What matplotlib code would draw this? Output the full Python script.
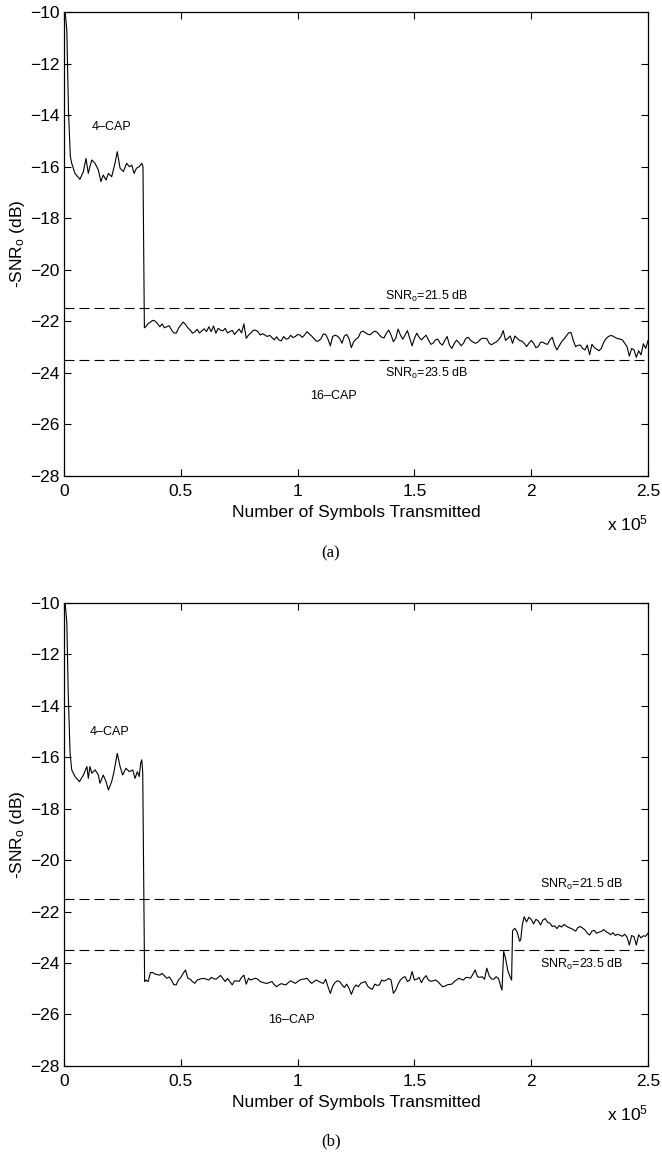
import numpy as np
import matplotlib
matplotlib.use('Agg')
import matplotlib.pyplot as plt

plt.rcParams['font.family'] = ['Liberation Sans', 'DejaVu Sans']
plt.rcParams['mathtext.fontset'] = 'custom'
plt.rcParams['mathtext.rm'] = 'Liberation Sans'
plt.rcParams['mathtext.it'] = 'Liberation Sans:italic'

# reference levels (dB), x axis in units of 1e5 symbols
snr_targets = [21.5, 23.5]
xticks = [0, 0.5, 1, 1.5, 2, 2.5]
yticks = [-28, -26, -24, -22, -20, -18, -16, -14, -12, -10]
step = 0.01

# (a) 4-CAP start-up and switch
a_head_x = [0.0, 0.012, 0.019, 0.027, 0.033, 0.047, 0.068, 0.083, 0.094, 0.104, 0.111, 0.119,
            0.133, 0.147, 0.158, 0.168, 0.180, 0.190, 0.204, 0.218, 0.228, 0.240, 0.254, 0.268,
            0.280, 0.290, 0.300, 0.310, 0.322, 0.333, 0.338, 0.344]
a_head_y = [-9.5, -10.7, -13.8, -15.6, -15.87, -16.26, -16.49, -16.19, -15.68, -16.26, -16.0, -15.74,
            -15.87, -16.13, -16.58, -16.32, -16.52, -16.26, -16.39, -15.87, -15.42, -16.06, -16.19, -15.87,
            -16.0, -15.94, -16.26, -16.06, -16.0, -15.87, -16.0, -22.25]
# (a) 16-CAP, 0.35 .. 2.50
a_tail_x0 = 0.35
a_tail_y = [
    -22.21, -22.09, -22.03, -21.96, -21.99, -22.08, -22.21, -22.10, -22.25, -22.21,
    -22.17, -22.33, -22.45, -22.46, -22.27, -22.14, -22.03, -22.12, -22.25, -22.34,
    -22.46, -22.41, -22.31, -22.45, -22.37, -22.29, -22.40, -22.21, -22.40, -22.18,
    -22.46, -22.27, -22.34, -22.37, -22.27, -22.45, -22.40, -22.35, -22.51, -22.40,
    -22.30, -22.45, -22.10, -22.66, -22.53, -22.45, -22.35, -22.34, -22.40, -22.53,
    -22.48, -22.53, -22.59, -22.54, -22.63, -22.72, -22.60, -22.72, -22.76, -22.59,
    -22.69, -22.67, -22.54, -22.63, -22.59, -22.51, -22.53, -22.62, -22.53, -22.40,
    -22.49, -22.57, -22.67, -22.77, -22.76, -22.67, -22.49, -22.51, -22.69, -22.95,
    -22.59, -22.54, -22.57, -22.66, -22.85, -22.57, -22.51, -22.67, -23.02, -22.79,
    -22.69, -22.62, -22.42, -22.38, -22.44, -22.50, -22.52, -22.44, -22.38, -22.42,
    -22.53, -22.62, -22.64, -22.46, -22.34, -22.53, -22.79, -22.66, -22.30, -22.53,
    -22.69, -22.53, -22.36, -22.66, -22.95, -22.66, -22.46, -22.62, -22.72, -22.62,
    -22.54, -22.72, -22.89, -22.85, -22.72, -22.69, -22.85, -22.92, -22.74, -22.59,
    -22.92, -23.05, -22.87, -22.73, -22.82, -22.95, -22.85, -22.66, -22.62, -22.73,
    -22.80, -22.85, -22.82, -22.72, -22.66, -22.66, -22.67, -22.85, -22.91, -22.85,
    -22.80, -22.72, -22.59, -22.36, -22.74, -22.66, -22.57, -22.85, -22.57, -22.66,
    -22.74, -22.77, -22.85, -22.98, -22.85, -22.74, -22.85, -23.02, -22.98, -22.81,
    -22.81, -22.87, -22.89, -22.72, -22.62, -22.92, -23.11, -22.95, -22.79, -22.69,
    -22.57, -22.45, -22.43, -22.74, -22.98, -22.93, -22.92, -23.05, -23.11, -22.92,
    -23.30, -22.89, -23.02, -23.08, -23.14, -23.05, -22.82, -22.67, -22.59, -22.55,
    -22.57, -22.63, -22.67, -22.69, -22.72, -22.85, -22.98, -23.35, -23.05, -23.11,
    -23.40, -23.14, -23.30, -22.87, -23.05, -22.75]

# (b) 4-CAP start-up and switch
b_head_x = [0.0, 0.012, 0.018, 0.026, 0.033, 0.047, 0.066, 0.083, 0.098, 0.104, 0.111, 0.119,
            0.133, 0.147, 0.154, 0.168, 0.180, 0.190, 0.204, 0.214, 0.228, 0.240, 0.251, 0.265,
            0.280, 0.294, 0.304, 0.314, 0.322, 0.328, 0.333, 0.337, 0.345]
b_head_y = [-9.5, -10.75, -13.5, -15.85, -16.49, -16.75, -16.95, -16.69, -16.36, -16.82, -16.36, -16.62,
            -16.49, -16.69, -17.01, -16.69, -16.95, -17.27, -16.95, -16.56, -15.85, -16.36, -16.69, -16.43,
            -16.56, -16.49, -16.82, -16.56, -16.75, -16.23, -16.1, -16.6, -24.72]
# (b) 16-CAP before the fallback, 0.35 .. 1.87
b_mid_x0 = 0.35
b_mid_y = [
    -24.66, -24.72, -24.37, -24.37, -24.43, -24.45, -24.47, -24.40, -24.50, -24.59,
    -24.54, -24.66, -24.84, -24.85, -24.66, -24.56, -24.40, -24.27, -24.59, -24.63,
    -24.72, -24.79, -24.66, -24.63, -24.60, -24.60, -24.63, -24.66, -24.56, -24.60,
    -24.63, -24.56, -24.48, -24.60, -24.72, -24.60, -24.72, -24.85, -24.69, -24.70,
    -24.71, -24.56, -24.47, -24.82, -24.59, -24.66, -24.62, -24.59, -24.63, -24.72,
    -24.75, -24.78, -24.79, -24.75, -24.72, -24.84, -24.92, -24.85, -24.80, -24.83,
    -24.85, -24.76, -24.69, -24.74, -24.79, -24.72, -24.66, -24.63, -24.62, -24.59,
    -24.70, -24.79, -24.72, -24.66, -24.71, -24.76, -24.79, -24.63, -24.92, -25.18,
    -24.90, -24.76, -24.69, -24.72, -24.85, -24.95, -24.82, -24.98, -25.22, -24.98,
    -24.85, -24.92, -24.79, -24.75, -24.72, -24.90, -24.98, -25.02, -24.82, -24.87,
    -24.85, -24.66, -24.70, -24.66, -24.60, -24.66, -25.18, -25.05, -24.82, -24.66,
    -24.57, -24.53, -24.72, -24.66, -24.33, -24.66, -24.63, -24.56, -24.76, -24.59,
    -24.49, -24.66, -24.71, -24.69, -24.66, -24.72, -24.82, -24.92, -24.90, -24.85,
    -24.83, -24.82, -24.72, -24.66, -24.59, -24.63, -24.66, -24.56, -24.56, -24.59,
    -24.44, -24.27, -24.53, -24.56, -24.53, -24.63, -24.20, -24.50, -24.62, -24.63,
    -24.53, -24.60, -24.92]
b_jump_x = [1.875, 1.882, 1.890, 1.900, 1.910, 1.916, 1.920, 1.930, 1.940, 1.950, 1.955, 1.962]
b_jump_y = [-25.05, -23.55, -23.82, -24.30, -24.55, -24.66, -22.75, -22.65, -22.80, -23.15, -23.10, -22.50]
# (b) after switching back, 1.97 .. 2.50
b_tail_x0 = 1.97
b_tail_y = [
    -22.20, -22.40, -22.22, -22.30, -22.48, -22.30, -22.36, -22.52, -22.33, -22.27,
    -22.42, -22.45, -22.58, -22.55, -22.66, -22.54, -22.60, -22.50, -22.56, -22.62,
    -22.65, -22.70, -22.76, -22.62, -22.58, -22.64, -22.71, -22.84, -22.91, -22.76,
    -22.73, -22.84, -22.80, -22.77, -22.70, -22.78, -22.83, -22.90, -22.82, -22.93,
    -22.88, -22.92, -22.96, -22.88, -22.99, -23.30, -22.93, -22.98, -23.30, -22.90,
    -23.02, -22.94, -22.96, -22.84]


def on_grid(x0, vals):
    return x0 + step * np.arange(len(vals))


def setup(ax):
    ax.set_xlim(0, 2.5)
    ax.set_ylim(-28, -10)
    ax.set_xticks(xticks)
    ax.set_xticklabels(['%g' % t for t in xticks])
    ax.set_yticks(yticks)
    ax.tick_params(direction='in', top=True, right=True, length=5, width=0.8, labelsize=12.5)
    ax.tick_params(axis='y', pad=3)
    ax.tick_params(axis='x', pad=6)
    for s in ax.spines.values():
        s.set_linewidth(0.9)
    for t in snr_targets:
        ax.axhline(-t, color='k', lw=0.8, dashes=[9, 4.5])
    ax.set_xlabel('Number of Symbols Transmitted', fontsize=12.5)
    ax.xaxis.set_label_coords(0.5, -0.062)
    ax.set_ylabel(r'-SNR$_\mathrm{o}$ (dB)', fontsize=12.5)
    ax.yaxis.set_label_coords(-0.063, 0.5)
    ax.text(1.0, -0.103, r'x 10$^\mathrm{5}$', transform=ax.transAxes, ha='right', va='center', fontsize=12.5)


fig = plt.figure(figsize=(6.62, 11.57), dpi=100)
ax1 = fig.add_axes([0.0967, 0.5886, 0.8822, 0.401])
ax2 = fig.add_axes([0.0967, 0.0787, 0.8822, 0.4002])

xa = np.concatenate([a_head_x, on_grid(a_tail_x0, a_tail_y)])
ya = np.concatenate([a_head_y, a_tail_y])
ax1.plot(xa, ya, color='k', lw=0.8)
setup(ax1)
ax1.text(0.12, -14.45, '4–CAP', ha='left', va='center', fontsize=9)
ax1.text(1.053, -24.9, '16–CAP', ha='left', va='center', fontsize=9)
ax1.text(1.374, -21.15, r'SNR$_\mathrm{o}$=%.1f dB' % snr_targets[0], ha='left', va='baseline', fontsize=9)
ax1.text(1.374, -24.16, r'SNR$_\mathrm{o}$=%.1f dB' % snr_targets[1], ha='left', va='baseline', fontsize=9)

xb = np.concatenate([b_head_x, on_grid(b_mid_x0, b_mid_y), b_jump_x, on_grid(b_tail_x0, b_tail_y)])
yb = np.concatenate([b_head_y, b_mid_y, b_jump_y, b_tail_y])
ax2.plot(xb, yb, color='k', lw=0.8)
setup(ax2)
ax2.text(0.111, -15.03, '4–CAP', ha='left', va='center', fontsize=9)
ax2.text(0.873, -26.21, '16–CAP', ha='left', va='center', fontsize=9)
ax2.text(2.038, -21.09, r'SNR$_\mathrm{o}$=%.1f dB' % snr_targets[0], ha='left', va='baseline', fontsize=9)
ax2.text(2.038, -24.2, r'SNR$_\mathrm{o}$=%.1f dB' % snr_targets[1], ha='left', va='baseline', fontsize=9)

fig.text(0.5, 1 - 553 / 1157, '(a)', ha='center', va='center', fontsize=12, family=['Liberation Serif', 'DejaVu Serif'])
fig.text(0.5, 1 - 1141 / 1157, '(b)', ha='center', va='center', fontsize=12, family=['Liberation Serif', 'DejaVu Serif'])

fig.savefig('out.png', dpi=100)
